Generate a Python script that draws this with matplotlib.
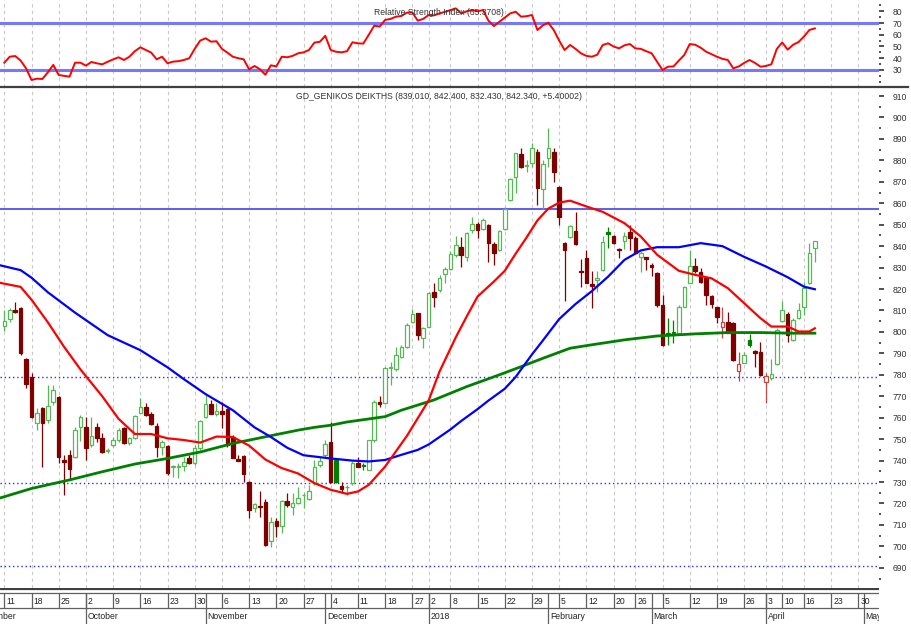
import matplotlib
matplotlib.use('Agg')
import matplotlib.pyplot as plt
import numpy as np
import pandas as pd
from matplotlib.lines import Line2D

plt.rcParams['font.family'] = ['Liberation Sans Narrow', 'Liberation Sans', 'DejaVu Sans']

# trading calendar (Athens), future days keep counting for the axis
holidays = ['2017-12-25', '2017-12-26', '2018-01-01', '2018-02-19',
            '2018-03-30', '2018-04-02', '2018-04-06', '2018-04-09']
month_names = ['September', 'October', 'November', 'December', '2018',
               'February', 'March', 'April', 'May']

# daily candles, Sep 11 2017 .. Apr 18 2018
opens = [802.7, 805.8, 810.0, 811.0, 787.2, 778.8, 757.4, 764.7, 759.0, 767.5,
         769.8, 740.3, 742.6, 741.8, 755.5, 755.8, 747.2, 755.8, 750.4, 744.5,
         747.2, 749.6, 755.0, 748.0, 750.7, 762.3, 765.1, 761.7, 756.3, 746.2,
         747.0, 737.0, 737.0, 737.4, 741.0, 738.7, 745.7, 760.5, 766.4, 761.6,
         762.9, 764.0, 751.2, 740.7, 742.2, 730.2, 717.8, 718.9, 720.6, 702.3,
         712.0, 709.3, 721.2, 718.6, 720.2, 723.9, 722.2, 729.5, 738.0, 742.7,
         748.9, 740.3, 728.2, 727.6, 729.5, 738.8, 738.0, 735.7, 749.4, 767.5,
         766.7, 783.1, 782.6, 788.2, 793.2, 804.8, 808.7, 797.1, 802.5, 818.8,
         819.6, 827.0, 829.2, 836.0, 839.5, 835.1, 847.6, 850.4, 847.9, 849.9,
         840.9, 838.2, 847.9, 861.5, 872.4, 882.8, 877.4, 878.6, 884.1, 866.5,
         881.0, 884.1, 867.8, 841.3, 844.4, 847.2, 828.6, 834.4, 822.5, 824.4,
         828.9, 846.8, 844.5, 838.6, 842.6, 846.8, 843.7, 835.1, 834.8, 831.1,
         827.4, 812.6, 799.4, 800.0, 799.4, 811.8, 823.0, 830.8, 828.1, 825.0,
         816.8, 811.5, 802.5, 804.4, 804.1, 782.0, 785.7, 796.3, 791.2, 790.8,
         776.8, 778.4, 785.1, 805.3, 808.4, 796.3, 806.4, 811.8, 822.7, 839.01]
highs = [810.2, 811.3, 814.1, 811.5, 787.8, 780.7, 764.3, 765.2, 775.2, 775.2,
         770.2, 742.6, 744.9, 755.8, 761.2, 760.5, 760.5, 757.4, 752.7, 746.0,
         751.1, 755.0, 755.8, 751.1, 761.2, 769.3, 766.7, 762.8, 757.4, 749.6,
         747.3, 738.0, 739.0, 741.8, 742.6, 747.2, 758.9, 770.6, 768.2, 767.0,
         767.5, 764.5, 752.0, 742.7, 742.5, 730.5, 720.2, 725.6, 722.0, 713.9,
         713.1, 721.7, 724.8, 724.8, 727.9, 724.8, 728.7, 740.3, 741.9, 749.7,
         758.2, 741.1, 730.2, 728.7, 739.6, 741.9, 738.8, 749.7, 768.3, 770.0,
         783.8, 786.2, 793.2, 794.0, 804.0, 810.6, 809.0, 802.5, 818.8, 822.7,
         826.6, 830.5, 837.5, 844.8, 844.4, 846.8, 853.5, 851.4, 853.0, 850.2,
         842.1, 847.6, 858.4, 871.6, 883.6, 885.6, 880.2, 887.9, 885.2, 880.2,
         895.0, 885.6, 868.0, 842.1, 849.9, 856.1, 834.0, 838.0, 828.5, 828.5,
         844.5, 849.1, 845.2, 839.0, 846.8, 849.9, 844.5, 837.5, 835.1, 832.0,
         828.1, 817.3, 806.4, 805.6, 812.6, 821.5, 838.2, 834.4, 829.7, 825.8,
         817.3, 811.8, 811.8, 809.5, 804.8, 790.8, 790.8, 799.1, 791.6, 795.5,
         780.8, 787.3, 801.7, 814.2, 809.5, 806.4, 813.4, 823.5, 841.4, 842.40]
lows = [800.4, 804.8, 808.8, 789.2, 773.9, 759.7, 754.2, 737.1, 757.4, 766.0,
        738.7, 724.0, 731.0, 741.0, 749.0, 740.3, 746.5, 748.8, 743.4, 743.5,
        746.5, 748.8, 747.7, 747.2, 750.3, 762.0, 760.8, 756.6, 741.8, 742.6,
        733.3, 732.5, 731.7, 735.3, 738.4, 737.9, 744.9, 759.7, 761.6, 761.0,
        755.1, 746.5, 741.1, 739.6, 730.2, 713.1, 716.0, 713.9, 700.3, 699.6,
        704.6, 706.2, 718.6, 714.7, 719.8, 717.8, 721.7, 728.7, 737.2, 741.9,
        729.5, 729.5, 724.8, 724.0, 728.7, 736.9, 735.7, 735.4, 748.9, 765.0,
        766.4, 775.3, 782.0, 787.7, 792.4, 804.0, 796.3, 792.4, 802.2, 811.8,
        818.8, 822.7, 828.9, 835.1, 830.5, 833.3, 846.3, 843.7, 847.6, 832.8,
        831.2, 837.9, 847.6, 861.2, 864.7, 876.3, 874.7, 877.1, 859.2, 857.2,
        877.1, 870.1, 849.9, 814.2, 843.7, 840.6, 821.1, 822.7, 811.0, 818.8,
        828.6, 839.0, 841.0, 834.4, 838.6, 838.2, 836.4, 828.1, 828.9, 826.1,
        811.8, 793.5, 794.0, 794.7, 799.1, 811.5, 822.7, 827.4, 823.0, 812.6,
        811.0, 804.1, 797.1, 799.4, 786.6, 777.3, 785.4, 793.0, 783.8, 779.5,
        766.8, 777.6, 784.6, 804.8, 795.5, 796.0, 806.1, 808.0, 822.4, 832.43]
closes = [805.2, 810.2, 809.2, 790.3, 775.7, 760.2, 762.0, 757.4, 765.6, 772.9,
          741.8, 739.5, 735.9, 754.2, 760.5, 745.7, 751.4, 750.4, 744.1, 744.7,
          749.6, 754.2, 748.0, 750.7, 760.8, 765.1, 761.2, 757.1, 746.2, 748.8,
          734.0, 737.3, 737.3, 739.5, 738.7, 745.7, 758.6, 766.6, 761.8, 762.9,
          761.6, 747.3, 741.4, 740.0, 733.8, 717.0, 719.7, 718.3, 700.7, 711.6,
          709.3, 721.2, 719.4, 720.2, 722.5, 724.1, 725.9, 737.2, 739.6, 747.8,
          729.8, 729.8, 726.7, 727.9, 739.1, 737.2, 737.7, 749.4, 767.1, 766.3,
          783.1, 783.8, 789.3, 792.9, 803.3, 808.4, 798.6, 801.7, 818.0, 816.5,
          825.0, 829.2, 836.4, 840.6, 835.9, 846.0, 850.4, 847.6, 852.2, 841.3,
          837.0, 847.2, 857.2, 871.2, 883.3, 877.1, 877.9, 885.6, 867.0, 878.3,
          885.6, 874.8, 853.5, 838.2, 849.4, 841.0, 828.0, 823.0, 821.6, 825.2,
          842.1, 845.7, 841.3, 838.3, 844.8, 843.7, 836.7, 837.0, 833.9, 830.5,
          812.6, 794.0, 798.4, 799.5, 811.8, 821.1, 830.8, 828.6, 823.5, 817.3,
          813.1, 806.8, 804.8, 799.7, 787.0, 785.1, 789.3, 794.0, 790.3, 780.0,
          779.3, 780.3, 800.9, 810.0, 798.6, 805.6, 810.3, 820.4, 836.94, 842.34]

rsi = [36.2, 41.3, 41.9, 38.0, 31.4, 21.5, 22.6, 22.3, 28.0, 34.3,
       25.7, 25.0, 24.3, 36.2, 36.2, 33.7, 36.8, 35.7, 34.8, 37.0,
       39.0, 40.8, 38.5, 41.3, 46.0, 49.3, 47.0, 44.8, 39.1, 41.3,
       35.7, 37.1, 37.5, 38.5, 40.0, 48.0, 55.0, 57.0, 54.1, 54.5,
       48.0, 44.8, 41.3, 40.0, 39.1, 30.6, 33.4, 30.6, 26.0, 34.0,
       33.0, 41.3, 40.8, 42.0, 44.2, 45.0, 47.0, 53.3, 54.0, 59.1,
       47.0, 45.5, 45.0, 46.0, 53.6, 52.7, 52.5, 60.0, 67.7, 67.0,
       72.6, 73.5, 75.4, 76.0, 78.8, 79.0, 72.0, 73.5, 76.8, 76.5,
       78.2, 79.5, 81.0, 82.5, 78.2, 80.0, 81.1, 80.0, 81.0, 72.0,
       67.4, 71.0, 74.5, 78.2, 79.6, 75.4, 75.8, 76.8, 64.0, 68.0,
       70.3, 64.0, 55.0, 47.0, 51.3, 48.0, 44.2, 42.0, 41.3, 43.0,
       51.3, 52.7, 50.0, 48.4, 51.0, 52.1, 48.4, 48.0, 46.0, 44.2,
       37.0, 30.0, 32.8, 33.0, 38.0, 42.8, 52.1, 51.5, 49.0, 45.6,
       43.5, 41.3, 39.5, 38.5, 31.4, 33.0, 36.0, 38.5, 36.0, 32.8,
       33.4, 34.8, 47.9, 53.5, 47.3, 51.5, 53.8, 58.5, 64.1, 65.4]

# moving averages at these day numbers
red_idx = [-1, 3, 5, 8, 11, 14, 18, 21, 24, 27, 30, 33, 36, 39, 42, 45, 48, 51,
           54, 57, 60, 63, 65, 67, 70, 74, 78, 80, 83, 85, 87, 90, 92, 94, 96,
           98, 100, 102, 104, 107, 110, 114, 117, 120, 124, 127, 130, 133, 136,
           139, 141, 144, 146, 148, 149]
red_ma = [823, 821, 815, 804.5, 793, 782.5, 770, 759.5, 752.4, 752.4, 750.4,
          749.6, 748.4, 751.2, 751, 747, 740.5, 736.5, 734, 729.5, 726.4, 724.5,
          725.6, 728.7, 737.2, 751.5, 768, 781.5, 797.5, 807.2, 816.5, 823.5,
          828.5, 836.5, 844, 852, 857.5, 860.3, 861.2, 858.5, 856, 850.7, 844.5,
          836, 828.5, 826.6, 825, 820.4, 813.4, 806.4, 802.5, 802.5, 800.2,
          800.2, 801.7]
blue_idx = [-1, 3, 5, 8, 13, 19, 25, 30, 33, 37, 42, 46, 49, 52, 55, 60, 64, 67,
            70, 73, 76, 78, 80, 82, 84, 87, 89, 92, 94, 97, 99, 102, 105, 108,
            111, 114, 117, 120, 124, 128, 132, 136, 140, 144, 147, 149]
blue_ma = [831.2, 828.8, 825.3, 818.5, 809, 798.5, 791.5, 783.5, 778, 771,
           763.5, 755.5, 751, 746, 742.5, 741, 740, 739.6, 740.3, 742.7, 745,
           747.5, 751, 754.5, 758.5, 764, 768, 773.5, 779, 789.5, 796, 806, 813,
           819, 825.8, 833.6, 838, 839.5, 839.5, 841.4, 840, 835, 830.5, 825.5,
           821.1, 819.9]
green_idx = [-1, 5, 12, 18, 24, 30, 36, 42, 48, 54, 57, 60, 63, 70, 73, 79, 85,
             91, 95, 99, 104, 108, 114, 120, 127, 133, 139, 145, 149]
green_ma = [722.4, 727, 731, 734.8, 738.4, 741, 744, 748, 751.1, 754.2, 755.5,
            756.5, 758, 760.5, 763.5, 768.3, 774.5, 780, 783.8, 787.7, 792.4, 794,
            796.3, 798.1, 799.1, 799.7, 799.7, 799.4, 799.4]

# calendar -> bar numbers (Sep 11 2017 = 0)
days = pd.bdate_range('2017-09-01', '2018-05-04')
days = days[~days.isin(pd.to_datetime(holidays))]
num = np.arange(len(days)) - list(days).index(pd.Timestamp('2017-09-11'))
week = days.isocalendar().week.values
wk_pos = [num[k] for k in range(len(days)) if k > 0 and week[k] != week[k - 1] and num[k] >= 0]
wk_lab = [str(days[k].day) for k in range(len(days)) if k > 0 and week[k] != week[k - 1] and num[k] >= 0]
mo_pos = [num[k] for k in range(len(days)) if k == 0 or days[k].month != days[k - 1].month]

W, H = 911, 624
FS = 6.2
xlim = (-4.3 / 5.44, (879 - 4.3) / 5.44)
fig = plt.figure(figsize=(W / 100, H / 100), dpi=100)
ax_r = fig.add_axes([0, 1 - 87 / H, 879 / W, 87 / H])
ax = fig.add_axes([0, 36 / H, 879 / W, 501 / H])
ax_d = fig.add_axes([0, 0, 879 / W, 36 / H])

for a in (ax_r, ax):
    a.set_xlim(xlim)
    for s in a.spines.values():
        s.set_visible(False)
    a.set_xticks([])
    a.yaxis.tick_right()
    a.tick_params(axis='y', which='major', length=3.6, width=1.2, color='#333333',
                  pad=6.3, labelsize=FS, labelcolor='#333333')
    a.tick_params(axis='y', which='minor', length=1.2, width=1.2, color='#333333')

# ---- RSI panel
ax_r.set_ylim(15.5, 89.6)
ax_r.set_yticks(range(30, 81, 10))
ax_r.set_yticks(range(20, 90, 5), minor=True)
ax_r.vlines(wk_pos, 15.5, 89.6, colors='#c8c8c8', lw=0.8, linestyles=(0, (3, 3)), zorder=0)
ax_r.axhline(70, color='#7878ff', lw=2.2)
ax_r.axhline(30, color='#7878ff', lw=2.2)
ax_r.plot(range(len(rsi)), rsi, color='#ff0000', lw=1.4)
ax_r.text(0.4995, 0.855, 'Relative Strength Index (65.3708)', transform=ax_r.transAxes,
          ha='center', va='center', fontsize=FS, color='#333333')

# ---- price panel
ax.set_ylim(680.6, 914.2)
ax.set_yticks(range(690, 911, 10))
ax.set_yticks(range(685, 915, 5), minor=True)
ax.vlines(wk_pos, 680.6, 914.2, colors='#c8c8c8', lw=0.8, linestyles=(0, (3, 3)), zorder=0)
ax.axhline(857.5, color='#5050f0', lw=1.3, zorder=1)
for lvl in (779, 729.5, 691):
    ax.axhline(lvl, color='#2a2aff', lw=1.0, ls=(0, (1, 2)), zorder=1)

x = np.arange(len(closes))
o, h, l, c = map(np.array, (opens, highs, lows, closes))
prev = np.r_[c[0] - 1, c[:-1]]
up = c >= prev
hollow = c >= o
line_col = np.where(up, np.where(hollow, '#58b858', '#008000'), np.where(hollow, '#c04848', '#800000'))
face_col = np.where(hollow, 'white', line_col)
ax.vlines(x, l, h, colors=line_col, lw=0.9, zorder=2)
ax.bar(x, np.maximum(np.abs(c - o), 0.25), bottom=np.minimum(o, c), width=0.66,
       color=face_col, edgecolor=line_col, lw=0.9, zorder=3)

ax.plot(green_idx, green_ma, color='#008000', lw=2.0, zorder=4)
ax.plot(blue_idx, blue_ma, color='#0000ff', lw=1.6, zorder=4)
ax.plot(red_idx, red_ma, color='#ff0000', lw=1.6, zorder=4)
ax.text(0.5, 0.9806, 'GD_GENIKOS DEIKTHS (839.010, 842.400, 832.430, 842.340, +5.40002)',
        transform=ax.transAxes, ha='center', va='center', fontsize=FS, color='#333333')

# ---- date strip
ax_d.set_xlim(xlim)
ax_d.set_ylim(0, 1)
ax_d.axis('off')
ax_d.axhline(0.972, color='#404040', lw=1.6)
ax_d.axhline(0.853, color='#606060', lw=0.9)
ax_d.axhline(0.444, color='#606060', lw=0.9)
ax_d.vlines(wk_pos, 0.444, 0.853, colors='#606060', lw=0.9)
ax_d.vlines(mo_pos, 0.0, 0.853, colors='#606060', lw=0.9)
for p, s in zip(wk_pos, wk_lab):
    ax_d.text(p + 0.35, 0.63, s, ha='left', va='center', fontsize=FS,
              color='#222222', clip_on=True)
for p, s in zip(mo_pos, month_names):
    ax_d.text(p + 0.35, 0.2, s, ha='left', va='center', fontsize=FS,
              color='#222222', clip_on=True)

fig.add_artist(Line2D([0, 908 / W], [1 - 87 / H] * 2, color='#404040', lw=1.6,
                      transform=fig.transFigure))

fig.savefig('out.png', dpi=100)
